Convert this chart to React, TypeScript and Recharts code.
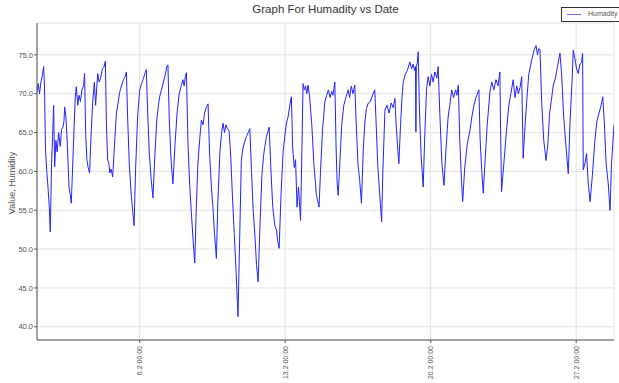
import React from "react";
import { LineChart, Line, XAxis, YAxis, CartesianGrid } from "recharts";

// time in days of February (fractional), humidity in %
const days = [
  1.06, 1.12, 1.18, 1.25, 1.32, 1.38, 1.42, 1.47, 1.53, 1.6, 1.65, 1.7, 1.76, 1.81, 1.86, 1.91, 1.97, 2.03, 2.1, 2.18,
  2.24, 2.31, 2.36, 2.39, 2.45, 2.52, 2.6, 2.66, 2.71, 2.78, 2.85, 2.9, 2.95, 3.02, 3.08, 3.15, 3.22, 3.3, 3.35, 3.4,
  3.46, 3.52, 3.59, 3.66, 3.74, 3.82, 3.88, 3.94, 3.98, 4.05, 4.12, 4.2, 4.28, 4.35, 4.4, 4.46, 4.52, 4.56, 4.62, 4.7,
  4.78, 4.88, 4.96, 5.04, 5.12, 5.22, 5.3, 5.36, 5.42, 5.5, 5.58, 5.66, 5.73, 5.8, 5.9, 6.0, 6.08, 6.16, 6.25, 6.32,
  6.38, 6.46, 6.55, 6.64, 6.72, 6.82, 6.9, 6.96, 7.05, 7.14, 7.24, 7.3, 7.36, 7.42, 7.5, 7.55, 7.6, 7.7, 7.8, 7.9,
  8.01, 8.08, 8.14, 8.2, 8.25, 8.32, 8.4, 8.48, 8.56, 8.65, 8.72, 8.8, 8.9, 8.97, 9.05, 9.12, 9.2, 9.29, 9.36, 9.45,
  9.52, 9.6, 9.69, 9.76, 9.86, 9.94, 10.01, 10.08, 10.15, 10.22, 10.3, 10.38, 10.46, 10.55, 10.64, 10.73, 10.8, 10.89, 10.97, 11.05,
  11.14, 11.22, 11.3, 11.38, 11.46, 11.55, 11.62, 11.7, 11.78, 11.88, 11.96, 12.02, 12.1, 12.18, 12.23, 12.3, 12.4, 12.5, 12.58, 12.64,
  12.71, 12.8, 12.9, 12.98, 13.06, 13.14, 13.22, 13.3, 13.36, 13.44, 13.5, 13.57, 13.64, 13.74, 13.8, 13.86, 13.92, 13.98, 14.04, 14.1,
  14.18, 14.28, 14.38, 14.5, 14.63, 14.7, 14.8, 14.91, 15.0, 15.08, 15.16, 15.24, 15.3, 15.39, 15.45, 15.5, 15.55, 15.63, 15.72, 15.82,
  15.92, 16.03, 16.1, 16.18, 16.26, 16.35, 16.42, 16.5, 16.58, 16.67, 16.76, 16.84, 16.91, 17.0, 17.1, 17.2, 17.31, 17.38, 17.46, 17.55,
  17.64, 17.7, 17.8, 17.9, 18.0, 18.1, 18.2, 18.28, 18.34, 18.4, 18.47, 18.55, 18.62, 18.68, 18.78, 18.88, 19.0, 19.08, 19.16, 19.22,
  19.27, 19.29, 19.31, 19.36, 19.4, 19.46, 19.54, 19.64, 19.72, 19.8, 19.88, 19.96, 20.04, 20.12, 20.2, 20.3, 20.36, 20.44, 20.54, 20.64,
  20.74, 20.84, 20.92, 21.01, 21.1, 21.2, 21.26, 21.33, 21.4, 21.48, 21.54, 21.64, 21.76, 21.89, 21.98, 22.08, 22.18, 22.32, 22.38, 22.46,
  22.53, 22.62, 22.72, 22.85, 22.94, 23.04, 23.14, 23.24, 23.33, 23.37, 23.41, 23.52, 23.64, 23.76, 23.86, 23.97, 24.06, 24.14, 24.22, 24.3,
  24.38, 24.45, 24.52, 24.62, 24.72, 24.86, 24.96, 25.07, 25.14, 25.2, 25.26, 25.34, 25.44, 25.55, 25.64, 25.72, 25.8, 25.9, 26.0, 26.1,
  26.22, 26.3, 26.4, 26.5, 26.62, 26.7, 26.8, 26.86, 26.94, 27.02, 27.1, 27.18, 27.26, 27.31, 27.34, 27.42, 27.5, 27.58, 27.67, 27.78,
  27.9, 28.0, 28.1, 28.2, 28.28, 28.36, 28.44, 28.54, 28.63, 28.7, 28.76, 28.82,
];

const humidity = [
  70.2, 71.3, 70.0, 71.5, 72.4, 73.5, 71.0, 62.7, 60.0, 57.5, 55.5, 52.2, 61.0, 64.5, 68.5, 60.6, 64.0, 62.5, 65.0, 63.2,
  65.4, 65.7, 66.5, 68.3, 67.0, 63.5, 58.0, 57.0, 55.9, 61.0, 66.0, 69.5, 70.9, 68.5, 69.8, 69.0, 70.5, 71.0, 72.6, 65.0,
  61.5, 60.5, 59.8, 64.5, 69.0, 71.5, 68.5, 71.0, 72.6, 71.5, 72.0, 73.2, 73.4, 74.2, 66.0, 61.5, 61.0, 59.8, 60.3, 59.3,
  63.0, 67.5, 68.8, 70.2, 71.0, 71.8, 72.2, 72.8, 67.0, 61.0, 57.5, 55.0, 53.0, 60.0, 67.0, 70.5, 71.2, 71.8, 72.6, 73.1,
  68.0, 62.5, 59.0, 56.6, 61.5, 66.5, 68.5, 69.6, 70.5, 71.5, 72.5, 73.5, 73.7, 67.0, 62.0, 60.0, 58.4, 63.5, 67.5, 70.0,
  71.1, 71.8, 71.0, 72.3, 72.7, 64.0, 58.5, 55.0, 51.5, 48.2, 55.0, 61.0, 64.5, 66.6, 66.0, 67.5, 68.2, 68.7, 62.5, 58.0,
  55.5, 52.0, 48.8, 56.0, 62.5, 65.0, 66.2, 65.0, 66.0, 65.5, 65.3, 62.0, 57.0, 52.0, 47.0, 41.3, 50.0, 61.4, 63.0, 63.8,
  64.5, 65.0, 65.5, 60.0, 55.0, 51.5, 48.0, 45.8, 52.5, 59.5, 62.0, 63.2, 64.5, 65.2, 65.7, 61.0, 55.5, 53.0, 52.5, 51.0,
  50.1, 57.0, 62.5, 64.5, 66.2, 67.0, 68.5, 69.6, 63.0, 60.5, 61.5, 55.4, 58.0, 53.7, 62.0, 71.3, 70.5, 71.0, 70.0, 71.1,
  69.5, 66.0, 61.0, 57.0, 55.4, 60.0, 65.5, 69.0, 69.8, 70.5, 69.5, 70.3, 69.8, 71.5, 63.0, 58.5, 56.9, 61.0, 66.0, 68.5,
  69.5, 70.5, 69.5, 71.0, 70.0, 71.1, 66.0, 61.0, 59.0, 55.9, 63.0, 66.5, 68.1, 68.8, 69.0, 69.8, 70.5, 66.0, 60.5, 57.0,
  53.5, 60.0, 67.9, 68.5, 67.5, 68.8, 68.2, 69.4, 66.0, 63.5, 61.0, 66.0, 69.5, 71.5, 72.5, 73.0, 74.1, 73.2, 73.8, 73.0,
  73.5, 65.1, 73.5, 74.0, 75.4, 68.0, 62.0, 58.0, 65.0, 70.5, 72.2, 71.0, 72.5, 71.5, 72.8, 72.0, 73.5, 67.5, 61.0, 58.2,
  63.0, 67.0, 68.5, 70.5, 69.5, 70.5, 69.8, 71.1, 64.0, 59.0, 56.1, 60.5, 63.5, 65.3, 67.0, 68.5, 69.5, 70.5, 64.0, 60.0,
  57.2, 61.5, 66.0, 70.2, 71.5, 70.5, 71.8, 71.0, 72.8, 64.0, 57.4, 61.0, 65.0, 68.5, 70.0, 71.8, 69.5, 71.0, 70.0, 70.8,
  72.2, 61.7, 65.0, 69.0, 72.5, 74.3, 75.5, 76.2, 75.0, 75.8, 75.6, 69.0, 64.0, 61.4, 63.5, 67.5, 69.0, 71.1, 72.0, 73.5,
  75.2, 72.5, 67.0, 63.5, 59.7, 66.0, 71.5, 75.6, 74.5, 73.2, 72.6, 73.8, 74.0, 75.2, 60.2, 61.0, 62.3, 58.5, 56.1, 59.5,
  64.0, 66.5, 67.5, 68.5, 69.6, 66.0, 61.0, 58.5, 55.0, 61.0, 63.5, 66.0,
];

const xTicks = [6, 13, 20, 27];
const yTicks = [40, 45, 50, 55, 60, 65, 70, 75];
const yMinorTicks = [
  39, 40, 41, 42, 43, 44, 45, 46, 47, 48, 49, 50, 51, 52, 53, 54, 55, 56, 57, 58, 59, 60,
  61, 62, 63, 64, 65, 66, 67, 68, 69, 70, 71, 72, 73, 74, 75, 76, 77, 78, 79,
];

const data = days.map((d, i) => ({ d, h: humidity[i] }));

const FRAME = "#555";
const TXT = "#555";

function XTick(props: any) {
  const { x, y, payload } = props;
  return (
    <text
      x={x}
      y={y}
      transform={`rotate(-90 ${x} ${y})`}
      textAnchor="end"
      dominantBaseline="central"
      fontSize={7}
      fill={TXT}
    >
      {`${payload.value}.2 00:00`}
    </text>
  );
}

export default function App() {
  return (
    <div
      style={{
        position: "absolute",
        left: 0,
        top: 0,
        width: 619,
        height: 383,
        background: "#fff",
        fontFamily: "'Liberation Sans', Arial, sans-serif",
      }}
    >
      <div
        style={{
          position: "absolute",
          left: 0,
          width: 651,
          top: 3,
          textAlign: "center",
          fontSize: 11.5,
          color: "#333",
        }}
      >
        Graph For Humadity vs Date
      </div>
      <div
        style={{
          position: "absolute",
          left: 12,
          top: 183,
          transform: "translate(-50%, -50%) rotate(-90deg)",
          whiteSpace: "nowrap",
          fontSize: 9,
          color: TXT,
        }}
      >
        Value, Humidity
      </div>
      <LineChart
        width={619}
        height={383}
        data={data}
        margin={{ top: 23, right: 5, bottom: 0, left: 0 }}
      >
        <CartesianGrid stroke="#e2e2e2" />
        <XAxis
          type="number"
          dataKey="d"
          domain={[1.06, 28.82]}
          ticks={xTicks}
          height={43}
          tickSize={3}
          tickMargin={3}
          tick={<XTick />}
          axisLine={{ stroke: FRAME }}
          tickLine={{ stroke: FRAME }}
          allowDataOverflow
        />
        <XAxis
          xAxisId="top"
          orientation="top"
          type="number"
          domain={[1.06, 28.82]}
          ticks={xTicks}
          height={0}
          mirror
          tick={false}
          tickSize={3}
          axisLine={{ stroke: FRAME }}
          tickLine={{ stroke: FRAME }}
          allowDataOverflow
        />
        <YAxis
          type="number"
          domain={[38.3, 79.1]}
          ticks={yTicks}
          width={37}
          tickSize={3}
          tickMargin={1}
          tick={{ fontSize: 7.5, fill: TXT }}
          tickFormatter={(v: number) => v.toFixed(1)}
          axisLine={{ stroke: FRAME }}
          tickLine={{ stroke: FRAME }}
          allowDataOverflow
        />
        <YAxis
          yAxisId="minorLeft"
          type="number"
          domain={[38.3, 79.1]}
          ticks={yMinorTicks}
          width={0}
          mirror
          tick={false}
          tickSize={2}
          axisLine={false}
          tickLine={{ stroke: FRAME }}
          allowDataOverflow
        />
        <YAxis
          yAxisId="right"
          orientation="right"
          type="number"
          domain={[38.3, 79.1]}
          ticks={yMinorTicks}
          width={0}
          mirror
          tick={false}
          tickSize={2}
          axisLine={{ stroke: FRAME }}
          tickLine={{ stroke: FRAME }}
          allowDataOverflow
        />
        <Line
          type="linear"
          dataKey="h"
          stroke="#2323ff"
          strokeWidth={1}
          dot={false}
          isAnimationActive={false}
        />
      </LineChart>
      <div
        style={{
          position: "absolute",
          left: 561,
          top: 7,
          width: 60,
          height: 15,
          border: "1px solid #333",
          boxSizing: "border-box",
          background: "#fff",
        }}
      >
        <div
          style={{
            position: "absolute",
            left: 5,
            top: 6,
            width: 14,
            height: 1,
            background: "#6a6aff",
          }}
        />
        <div
          style={{
            position: "absolute",
            left: 26,
            top: 2,
            fontSize: 7,
            color: TXT,
            whiteSpace: "nowrap",
          }}
        >
          Humadity
        </div>
      </div>
    </div>
  );
}
